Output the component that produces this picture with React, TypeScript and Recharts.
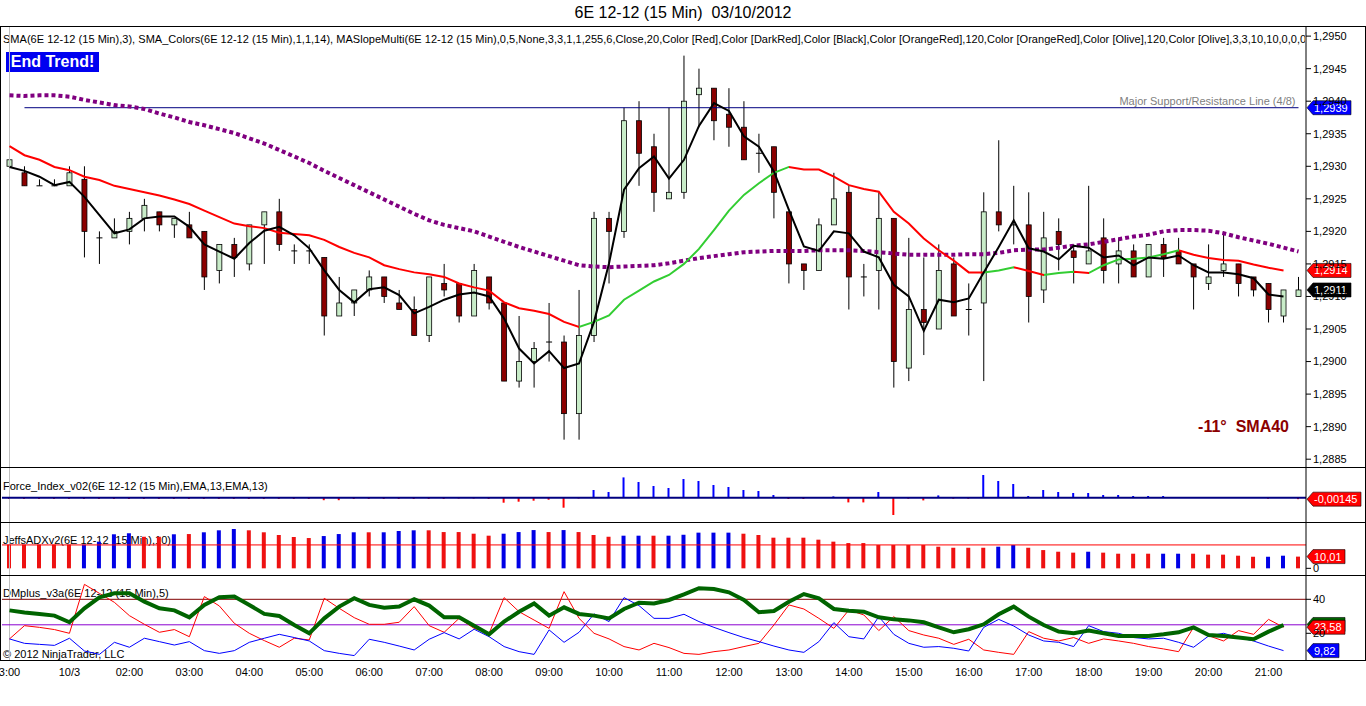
import React from "react";
import { Bar, Cell, ComposedChart, Line, ReferenceLine, XAxis, YAxis } from "recharts";

const FONT = '"Liberation Sans", Arial, sans-serif';

// x axis labels, one every 4 bars (15 min bars)
const timeLabels = [
    "3:00", "10/3", "02:00", "03:00", "04:00", "05:00", "06:00", "07:00", "08:00", "09:00", "10:00",
    "11:00", "12:00", "13:00", "14:00", "15:00", "16:00", "17:00", "18:00", "19:00", "20:00", "21:00",
];
const tickIdx = [0, 4, 8, 12, 16, 20, 24, 28, 32, 36, 40, 44, 48, 52, 56, 60, 64, 68, 72, 76, 80, 84];
const priceTicks = [1.2885, 1.289, 1.2895, 1.29, 1.2905, 1.291, 1.2915, 1.292, 1.2925, 1.293, 1.2935, 1.294, 1.2945, 1.295];

const opens = [
    1.2930, 1.2929, 1.2927, 1.2927, 1.2927, 1.2928, 1.2919, 1.2919, 1.2920, 1.2922,
    1.2923, 1.2921, 1.2921, 1.2920, 1.2914, 1.2918, 1.2915, 1.2921, 1.2923, 1.2917,
    1.2917, 1.2916, 1.2907, 1.2909, 1.2911, 1.2913, 1.2909, 1.2908, 1.2904, 1.2912,
    1.2912, 1.2907, 1.2913, 1.2909, 1.2897, 1.2900, 1.2903, 1.2903, 1.2892, 1.2904,
    1.2922, 1.2920, 1.2937, 1.2933, 1.2925, 1.2926, 1.2941, 1.2942, 1.2938, 1.2936,
    1.2932, 1.2933, 1.2923, 1.2915, 1.2914, 1.2921, 1.2926, 1.2913, 1.2914, 1.2922,
    1.2899, 1.2908, 1.2905, 1.2915, 1.2908, 1.2909, 1.2923, 1.2921, 1.2921, 1.2911,
    1.2920, 1.2917, 1.2915, 1.2919, 1.2915, 1.2917, 1.2913, 1.2918, 1.2917, 1.2915,
    1.2912, 1.2914, 1.2915, 1.2913, 1.2912, 1.2907, 1.2910,
];
const highs = [
    1.2933, 1.2930, 1.2928, 1.2928, 1.2930, 1.2930, 1.2920, 1.2922, 1.2923, 1.2925,
    1.2923, 1.2922, 1.2923, 1.2920, 1.2918, 1.2919, 1.2921, 1.2923, 1.2925, 1.2918,
    1.2918, 1.2916, 1.2913, 1.2911, 1.2914, 1.2913, 1.2911, 1.2910, 1.2913, 1.2915,
    1.2912, 1.2915, 1.2913, 1.2909, 1.2907, 1.2903, 1.2909, 1.2904, 1.2911, 1.2923,
    1.2923, 1.2939, 1.2940, 1.2935, 1.2939, 1.2947, 1.2945, 1.2942, 1.2942, 1.2940,
    1.2935, 1.2933, 1.2923, 1.2915, 1.2922, 1.2929, 1.2927, 1.2915, 1.2926, 1.2922,
    1.2919, 1.2916, 1.2918, 1.2916, 1.2912, 1.2926, 1.2934, 1.2927, 1.2926, 1.2923,
    1.2922, 1.2918, 1.2927, 1.2922, 1.2919, 1.2918, 1.2918, 1.2919, 1.2919, 1.2915,
    1.2918, 1.2920, 1.2915, 1.2913, 1.2912, 1.2911, 1.2913,
];
const lows = [
    1.2930, 1.2927, 1.2927, 1.2927, 1.2927, 1.2916, 1.2915, 1.2919, 1.2918, 1.2920,
    1.2920, 1.2919, 1.2919, 1.2911, 1.2912, 1.2913, 1.2914, 1.2915, 1.2917, 1.2915,
    1.2915, 1.2904, 1.2907, 1.2907, 1.2910, 1.2909, 1.2908, 1.2904, 1.2903, 1.2910,
    1.2906, 1.2907, 1.2908, 1.2897, 1.2896, 1.2896, 1.2900, 1.2888, 1.2888, 1.2903,
    1.2912, 1.2919, 1.2927, 1.2923, 1.2925, 1.2925, 1.2936, 1.2934, 1.2933, 1.2931,
    1.2929, 1.2922, 1.2912, 1.2911, 1.2914, 1.2921, 1.2908, 1.2910, 1.2908, 1.2896,
    1.2897, 1.2901, 1.2905, 1.2907, 1.2904, 1.2897, 1.2920, 1.2918, 1.2906, 1.2909,
    1.2914, 1.2912, 1.2915, 1.2912, 1.2912, 1.2913, 1.2913, 1.2913, 1.2915, 1.2908,
    1.2911, 1.2913, 1.2910, 1.2910, 1.2906, 1.2906, 1.2910,
];
const closes = [
    1.2931, 1.2927, 1.2927, 1.2927, 1.2929, 1.2920, 1.2919, 1.2920, 1.2922, 1.2924,
    1.2921, 1.2922, 1.2919, 1.2913, 1.2918, 1.2916, 1.2921, 1.2923, 1.2918, 1.2917,
    1.2917, 1.2907, 1.2909, 1.2911, 1.2913, 1.2910, 1.2908, 1.2904, 1.2913, 1.2911,
    1.2907, 1.2914, 1.2909, 1.2897, 1.2900, 1.2902, 1.2903, 1.2892, 1.2904, 1.2922,
    1.2920, 1.2937, 1.2932, 1.2926, 1.2926, 1.2940, 1.2942, 1.2937, 1.2936, 1.2931,
    1.2932, 1.2926, 1.2915, 1.2914, 1.2921, 1.2925, 1.2913, 1.2913, 1.2922, 1.2900,
    1.2908, 1.2906, 1.2914, 1.2907, 1.2908, 1.2923, 1.2921, 1.2921, 1.2910, 1.2919,
    1.2918, 1.2916, 1.2917, 1.2914, 1.2917, 1.2913, 1.2918, 1.2916, 1.2915, 1.2913,
    1.2913, 1.2915, 1.2912, 1.2911, 1.2908, 1.2911, 1.2911,
];

// SMA(3), black
const sma3 = [
    1.29299, 1.29293, 1.29284, 1.29271, 1.29276, 1.29253, 1.29225, 1.29197, 1.29203, 1.2922,
    1.29223, 1.29223, 1.29207, 1.2918, 1.29169, 1.29158, 1.29182, 1.29201, 1.29207, 1.29194,
    1.29174, 1.2914, 1.2911, 1.29091, 1.29111, 1.29114, 1.29102, 1.29074, 1.29084, 1.29095,
    1.29103, 1.29106, 1.291, 1.29066, 1.2902, 1.28997, 1.29016, 1.2899, 1.28997, 1.29061,
    1.29151, 1.29264, 1.29297, 1.29315, 1.29281, 1.2931, 1.29362, 1.29397, 1.29385, 1.29346,
    1.2933, 1.29292, 1.29233, 1.29177, 1.2917, 1.292, 1.29197, 1.29169, 1.2916, 1.29118,
    1.291, 1.29047, 1.29095, 1.29091, 1.29097, 1.29137, 1.29176, 1.29217, 1.29174, 1.29169,
    1.29157, 1.29178, 1.29175, 1.2916, 1.29163, 1.29148, 1.2916, 1.29158, 1.29163, 1.29148,
    1.29137, 1.29137, 1.29134, 1.29128, 1.29103, 1.291, null,
];

// SMA_Colors(14), red when falling, green when rising
const sma14 = [
    1.29331, 1.29317, 1.2931, 1.29299, 1.29294, 1.29284, 1.29279, 1.2927, 1.29265, 1.2926,
    1.29255, 1.29249, 1.29242, 1.29232, 1.29222, 1.29212, 1.29208, 1.29205, 1.29198, 1.29196,
    1.29194, 1.29187, 1.29176, 1.29167, 1.2916, 1.29148, 1.29142, 1.29137, 1.29134, 1.2913,
    1.2912, 1.29114, 1.29109, 1.29091, 1.29082, 1.29078, 1.29073, 1.29061, 1.29053, 1.29061,
    1.29071, 1.29095, 1.29109, 1.29123, 1.29133, 1.2915, 1.29173, 1.29202, 1.29232, 1.29256,
    1.29274, 1.2929, 1.29299, 1.29295, 1.29295, 1.29284, 1.29271, 1.29265, 1.29261, 1.2923,
    1.29212, 1.29189, 1.29171, 1.29155, 1.29137, 1.29137, 1.2914, 1.29145, 1.29139, 1.29133,
    1.29136, 1.29138, 1.29136, 1.29148, 1.29157, 1.29158, 1.2916, 1.29165, 1.29171, 1.29164,
    1.29159, 1.29156, 1.29155, 1.29149, 1.29144, 1.2914, null,
];

// SMA40, purple dotted
const sma40 = [
    1.29409, 1.29408, 1.29409, 1.29409, 1.29407, 1.29402, 1.29398, 1.29394, 1.29392, 1.29388,
    1.29381, 1.29375, 1.29368, 1.29363, 1.29357, 1.29351, 1.29343, 1.29335, 1.29325, 1.29315,
    1.29305, 1.29293, 1.29282, 1.29271, 1.2926, 1.29249, 1.29238, 1.29227, 1.29217, 1.2921,
    1.29205, 1.292, 1.29192, 1.29184, 1.29176, 1.29169, 1.29162, 1.29155, 1.29148, 1.29146,
    1.29145, 1.29146, 1.29147, 1.29148, 1.29151, 1.29155, 1.29159, 1.29162, 1.29165, 1.29168,
    1.29169, 1.2917, 1.2917, 1.2917, 1.29171, 1.29171, 1.29171, 1.2917, 1.29168, 1.29166,
    1.29164, 1.29164, 1.29164, 1.29164, 1.29165, 1.29165, 1.29167, 1.29171, 1.29172, 1.29172,
    1.29175, 1.29178, 1.2918, 1.29184, 1.29188, 1.29192, 1.29195, 1.292, 1.29202, 1.29202,
    1.29201, 1.29197, 1.29191, 1.29186, 1.29181, 1.29175, 1.29169,
];

const force = [
    -0.0012, -0.0012, -0.0012, -0.0012, -0.0012, -0.0012, -0.0012, -0.0012, -0.0012, -0.0012,
    -0.0012, -0.0012, -0.0012, -0.0012, -0.0012, -0.0012, -0.0012, -0.0012, -0.0012, -0.0012,
    -0.0012, -0.0025, -0.0025, -0.0012, -0.0012, -0.0012, -0.0012, -0.0012, -0.0012, -0.0012,
    -0.0008, -0.0008, -0.0012, -0.005, -0.004, -0.003, -0.002, -0.01, -0.0008, 0.0077,
    0.0057, 0.0203, 0.0157, 0.0117, 0.0097, 0.0187, 0.0167, 0.0127, 0.0107, 0.0077,
    0.0067, 0.0027, -0.0013, -0.0013, 0.0004, 0.0013, -0.0047, -0.0047, 0.0057, -0.0173,
    -0.001, -0.0027, 0.0023, -0.001, -0.001, 0.0227, 0.0167, 0.0137, 0.0017, 0.0077,
    0.0057, 0.0047, 0.0047, 0.0027, 0.0027, 0.0017, 0.0017, 0.0017, 0.0004, 0.0004,
    0.0004, 0.0004, 0.0004, 0.0004, -0.001, 0.0003, -0.00145,
];

const adx = [
    20.3, 20.3, 20.3, 20.3, 20.3, 20.3, 22.8, 29.1, 29.9, 27.0,
    27.0, 29.1, 29.3, 30.8, 32.5, 33.6, 32.5, 30.8, 28.5, 26.8,
    25.9, 27.6, 29.3, 30.8, 30.8, 30.8, 31.9, 32.5, 32.5, 31.0,
    31.0, 29.6, 27.9, 29.6, 31.0, 32.7, 31.0, 32.7, 31.0, 28.5,
    27.0, 27.9, 27.9, 27.9, 27.9, 28.7, 30.5, 30.5, 30.5, 29.6,
    28.5, 26.2, 26.2, 26.2, 24.5, 22.8, 21.6, 21.6, 19.9, 19.9,
    19.9, 19.9, 18.5, 17.6, 17.6, 17.6, 18.5, 19.9, 17.6, 15.6,
    14.2, 13.4, 14.2, 13.4, 12.5, 12.5, 12.5, 12.5, 12.5, 12.5,
    11.7, 11.7, 10.8, 9.9, 9.9, 10.8, 10.01,
];
const adxColors = "RRRRRBBBBRRBRBBBRRRRRBBBRBBBRR" + "RRRBBBRBRRRBBRBBBBBRRRRRRRRRRR" + "RRRRRRBBRRRRBRRRRBBRRRRRBBR";

const dmAdx = [
    33.5, 32.2, 31.4, 30.4, 26.5, 34.7, 41.2, 43.5, 43.5, 38.6,
    34.7, 33.5, 29.4, 36.7, 41.2, 41.6, 36.7, 31.4, 30.2, 24.9,
    20.0, 28.8, 35.7, 40.6, 36.7, 35.1, 35.7, 40.0, 36.3, 29.4,
    29.4, 24.5, 19.4, 26.9, 32.7, 37.6, 30.4, 35.3, 31.4, 30.4,
    28.8, 34.3, 38.0, 37.6, 39.6, 42.9, 46.5, 46.1, 44.1, 39.6,
    32.4, 33.1, 38.6, 43.1, 40.6, 34.3, 33.3, 32.7, 29.4, 28.2,
    27.6, 26.5, 23.5, 20.6, 22.4, 25.3, 31.2, 35.7, 29.8, 24.9,
    21.0, 20.0, 21.6, 20.0, 18.4, 18.4, 18.4, 19.4, 20.6, 23.5,
    19.0, 18.4, 17.5, 16.5, 21.0, 24.9, null,
];
const dmRed = [
    16.7, 24.5, 23.5, 22.2, 20.0, 48.8, 43.5, 38.2, 30.4, 25.3,
    20.6, 22.2, 18.0, 41.6, 36.1, 25.9, 20.0, 15.7, 11.8, 17.1,
    16.1, 40.6, 34.7, 29.2, 25.3, 25.3, 26.5, 35.7, 24.5, 20.6,
    28.8, 22.9, 20.0, 41.0, 32.7, 27.8, 22.9, 44.5, 28.8, 20.0,
    16.7, 12.2, 10.2, 14.1, 11.6, 8.2, 7.6, 9.2, 10.2, 12.2,
    14.1, 24.9, 36.7, 34.3, 28.8, 22.9, 33.7, 30.8, 21.6, 29.8,
    21.6, 19.0, 17.1, 13.5, 16.5, 10.2, 8.8, 7.6, 21.0, 17.1,
    15.5, 17.5, 14.1, 16.7, 15.5, 14.1, 12.2, 10.8, 9.2, 23.5,
    18.6, 15.5, 21.6, 19.4, 28.2, 23.58, null,
];
const dmBlue = [
    16.7, 14.1, 13.5, 12.9, 17.1, 9.6, 7.6, 14.7, 11.8, 17.1,
    15.1, 13.1, 15.1, 9.8, 8.2, 9.8, 14.7, 17.1, 19.4, 17.5,
    15.5, 9.8, 8.2, 6.9, 16.5, 14.7, 12.5, 10.2, 16.5, 20.4,
    16.7, 22.4, 18.0, 12.2, 9.2, 7.6, 22.0, 14.7, 20.6, 31.4,
    26.9, 41.0, 36.3, 28.8, 28.8, 31.2, 26.9, 23.5, 20.4, 17.5,
    15.1, 12.5, 10.2, 8.8, 15.1, 26.3, 18.0, 16.7, 29.8, 19.4,
    14.1, 11.8, 12.2, 11.2, 9.6, 23.5, 28.2, 24.3, 19.0, 15.5,
    14.7, 12.2, 24.5, 21.0, 20.0, 17.5, 16.7, 17.1, 14.7, 11.8,
    18.4, 20.0, 17.5, 15.5, 12.5, 9.82, null,
];

const rows = opens.map((o, i) => ({
    i,
    open: o,
    high: highs[i],
    low: lows[i],
    close: closes[i],
    sma3: sma3[i],
    sma14: sma14[i],
    sma40: sma40[i],
    force: force[i],
    adx: adx[i],
    dmAdx: dmAdx[i],
    dmRed: dmRed[i],
    dmBlue: dmBlue[i],
}));

// gradient stops so the SMA14 line is green on rising segments, red on falling ones
const smaLast = sma14.filter((v) => v != null).length - 1;
const smaStops: { off: number; color: string }[] = [];
for (let k = 0; k < smaLast; k++) {
    const color = (sma14[k + 1] as number) > (sma14[k] as number) ? "#32cd32" : "#ff0000";
    smaStops.push({ off: k / smaLast, color }, { off: (k + 1) / smaLast, color });
}

const Candle = (props: any) => {
    const { x, y, width, height, payload } = props;
    const top = Math.min(y, y + height);
    const h = Math.abs(height);
    const { open, close, high, low } = payload;
    const ppu = high === low ? 0 : h / (high - low);
    const yOf = (v: number) => top + (high - v) * ppu;
    const cx = x + width / 2;
    const bodyTop = yOf(Math.max(open, close));
    const bodyBot = yOf(Math.min(open, close));
    return (
        <g>
            <line x1={cx} x2={cx} y1={top} y2={top + h} stroke="#000" strokeWidth={1} />
            {open === close ? (
                <line x1={x - 0.5} x2={x + width + 0.5} y1={bodyTop} y2={bodyTop} stroke="#000" strokeWidth={1} />
            ) : (
                <rect
                    x={x}
                    y={bodyTop}
                    width={width}
                    height={Math.max(bodyBot - bodyTop, 1)}
                    fill={close > open ? "#c8ecc8" : "#8b0000"}
                    stroke="#000"
                    strokeWidth={0.8}
                />
            )}
        </g>
    );
};

// arrow-shaped value tag sitting on the right axis
const tag = (text: string, bg: string, w: number) => (props: any) => {
    const vb = props.viewBox ?? {};
    const x = (vb.x ?? 0) + (vb.width ?? 0);
    const y = vb.y ?? 0;
    return (
        <g>
            <polygon
                points={`${x + 1},${y} ${x + 7},${y - 7} ${x + w},${y - 7} ${x + w},${y + 7} ${x + 7},${y + 7}`}
                fill={bg}
                stroke="#000"
                strokeWidth={0.6}
            />
            <text x={x + 8} y={y + 4} fill="#fff" fontSize={11} fontFamily={FONT}>
                {text}
            </text>
        </g>
    );
};

const fmtPrice = (v: number) => v.toFixed(4).replace(".", ",");
const axisTick = { fill: "#000", fontSize: 11, fontFamily: FONT };
const margin = { top: 0, right: 0, bottom: 0, left: 2 };

const hline = (top: number): React.CSSProperties => ({
    position: "absolute",
    left: 0,
    top,
    width: 1366,
    height: 1,
    background: "#000",
});

const label = (left: number, top: number, extra?: React.CSSProperties): React.CSSProperties => ({
    position: "absolute",
    left,
    top,
    fontSize: 11,
    lineHeight: "12px",
    whiteSpace: "nowrap",
    color: "#000",
    ...extra,
});

export default function App() {
    return (
        <div
            style={{
                position: "absolute",
                left: 0,
                top: 0,
                width: 1366,
                height: 706,
                background: "#fff",
                fontFamily: FONT,
                overflow: "hidden",
            }}
        >
            <div style={{ position: "absolute", left: 0, top: 4, width: 1366, textAlign: "center", fontSize: 16, lineHeight: "18px" }}>
                6E 12-12 (15 Min)&nbsp;&nbsp;03/10/2012
            </div>

            <div style={label(3, 33, { width: 1302, overflow: "hidden", letterSpacing: "0.03px" })}>
                SMA(6E 12-12 (15 Min),3), SMA_Colors(6E 12-12 (15 Min),1,1,14), MASlopeMulti(6E 12-12 (15
                Min),0,5,None,3,3,1,1,255,6,Close,20,Color [Red],Color [DarkRed],Color [Black],Color [OrangeRed],120,Color
                [OrangeRed],Color [Olive],120,Color [Olive],3,3,10,10,0,0,0
            </div>
            <div
                style={{
                    position: "absolute",
                    left: 6,
                    top: 52,
                    width: 93,
                    height: 20,
                    background: "#0000f0",
                    color: "#fff",
                    fontWeight: "bold",
                    fontSize: 16,
                    lineHeight: "20px",
                    textAlign: "center",
                }}
            >
                End Trend!
            </div>
            <div
                style={{
                    position: "absolute",
                    left: 1100,
                    top: 417,
                    width: 189,
                    textAlign: "right",
                    color: "#8b0000",
                    fontWeight: "bold",
                    fontSize: 16,
                    lineHeight: "20px",
                    whiteSpace: "pre",
                }}
            >
                {"-11°  SMA40"}
            </div>
            <div style={label(3, 480)}>Force_Index_v02(6E 12-12 (15 Min),EMA,13,EMA,13)</div>
            <div style={label(3, 534)}>JeffsADXv2(6E 12-12 (15 Min),10)</div>
            <div style={label(3, 587)}>DMplus_v3a(6E 12-12 (15 Min),5)</div>
            <div style={label(3, 648)}>© 2012 NinjaTrader, LLC</div>

            {/* price panel */}
            <div style={{ position: "absolute", left: 0, top: 27 }}>
                <ComposedChart width={1366} height={440} data={rows} margin={margin}>
                    <defs>
                        <linearGradient id="smaGrad" x1="0" y1="0" x2="1" y2="0">
                            {smaStops.map((s, k) => (
                                <stop key={k} offset={s.off} stopColor={s.color} />
                            ))}
                        </linearGradient>
                    </defs>
                    <XAxis dataKey="i" scale="band" hide />
                    <YAxis
                        orientation="right"
                        width={60}
                        domain={[1.28838, 1.29514]}
                        ticks={priceTicks}
                        interval={0}
                        tickFormatter={fmtPrice}
                        tick={axisTick}
                        tickSize={5}
                        axisLine={{ stroke: "#000" }}
                        tickLine={{ stroke: "#000" }}
                        allowDataOverflow
                    />
                    <ReferenceLine x={0} stroke="#c0c0c0" />
                    <ReferenceLine
                        segment={[
                            { x: 1, y: 1.2939 },
                            { x: 86, y: 1.2939 },
                        ]}
                        stroke="#000080"
                        label={{
                            value: "Major Support/Resistance Line (4/8)",
                            position: "insideBottomRight",
                            fill: "#808080",
                            fontSize: 11,
                            offset: 3,
                        }}
                    />
                    <Bar dataKey={(d: any) => [d.low, d.high]} barSize={5} shape={(p: any) => <Candle {...p} />} isAnimationActive={false} />
                    <Line dataKey="sma40" stroke="#800080" strokeWidth={4} strokeDasharray="4 3" dot={false} activeDot={false} isAnimationActive={false} />
                    <Line dataKey="sma14" stroke="url(#smaGrad)" strokeWidth={2} dot={false} activeDot={false} isAnimationActive={false} />
                    <Line dataKey="sma3" stroke="#000" strokeWidth={2} dot={false} activeDot={false} isAnimationActive={false} />
                    <ReferenceLine y={1.2939} stroke="none" label={tag("1,2939", "#0000ff", 45)} />
                    <ReferenceLine y={1.2914} stroke="none" label={tag("1,2914", "#ff0000", 45)} />
                    <ReferenceLine y={1.2911} stroke="none" label={tag("1,2911", "#000", 45)} />
                </ComposedChart>
            </div>

            {/* force index */}
            <div style={{ position: "absolute", left: 0, top: 468 }}>
                <ComposedChart width={1366} height={54} data={rows} margin={margin}>
                    <XAxis dataKey="i" scale="band" hide />
                    <YAxis orientation="right" width={60} domain={[-0.0243, 0.0297]} ticks={[]} tick={false} axisLine={{ stroke: "#000" }} allowDataOverflow />
                    <ReferenceLine x={0} stroke="#c0c0c0" />
                    <Bar dataKey="force" barSize={2} isAnimationActive={false}>
                        {force.map((v, k) => (
                            <Cell key={k} fill={v >= 0 ? "#0000ff" : "#ff0000"} />
                        ))}
                    </Bar>
                    <ReferenceLine y={0} stroke="#000080" strokeWidth={2} />
                    <ReferenceLine y={-0.00145} stroke="none" label={tag("-0,00145", "#ff0000", 55)} />
                </ComposedChart>
            </div>

            {/* JeffsADX */}
            <div style={{ position: "absolute", left: 0, top: 522 }}>
                <ComposedChart width={1366} height={53} data={rows} margin={margin}>
                    <XAxis dataKey="i" scale="band" hide />
                    <YAxis
                        orientation="right"
                        width={60}
                        domain={[-5.7, 39.6]}
                        ticks={[0]}
                        interval={0}
                        tick={axisTick}
                        tickSize={5}
                        axisLine={{ stroke: "#000" }}
                        tickLine={{ stroke: "#000" }}
                        allowDataOverflow
                    />
                    <ReferenceLine x={0} stroke="#c0c0c0" />
                    <ReferenceLine y={20} stroke="#ff0000" />
                    <Bar dataKey="adx" barSize={4} isAnimationActive={false}>
                        {adx.map((_, k) => (
                            <Cell key={k} fill={adxColors[k] === "B" ? "#0000e6" : "#ee1111"} />
                        ))}
                    </Bar>
                    <ReferenceLine y={10.01} stroke="none" label={tag("10,01", "#ff0000", 39)} />
                </ComposedChart>
            </div>

            {/* DMplus */}
            <div style={{ position: "absolute", left: 0, top: 575 }}>
                <ComposedChart width={1366} height={110} data={rows} margin={margin}>
                    <XAxis
                        dataKey="i"
                        scale="band"
                        height={25}
                        ticks={tickIdx}
                        interval={0}
                        tickFormatter={(v: number) => timeLabels[v / 4]}
                        tick={axisTick}
                        tickLine={false}
                        axisLine={false}
                    />
                    <YAxis
                        orientation="right"
                        width={60}
                        domain={[4.3, 54.3]}
                        ticks={[20, 40]}
                        interval={0}
                        tick={axisTick}
                        tickSize={5}
                        axisLine={{ stroke: "#000" }}
                        tickLine={{ stroke: "#000" }}
                        allowDataOverflow
                    />
                    <ReferenceLine x={0} stroke="#c0c0c0" />
                    <ReferenceLine y={40} stroke="#800000" />
                    <ReferenceLine y={25} stroke="#8a00d0" />
                    <Line dataKey="dmRed" stroke="#ff0000" strokeWidth={1} dot={false} activeDot={false} isAnimationActive={false} />
                    <Line dataKey="dmBlue" stroke="#0000ff" strokeWidth={1} dot={false} activeDot={false} isAnimationActive={false} />
                    <Line dataKey="dmAdx" stroke="#006400" strokeWidth={4} dot={false} activeDot={false} isAnimationActive={false} />
                    <ReferenceLine y={25.2} stroke="none" label={tag("", "#006400", 39)} />
                    <ReferenceLine y={23.58} stroke="none" label={tag("23,58", "#ff0000", 39)} />
                    <ReferenceLine y={9.82} stroke="none" label={tag("9,82", "#0000ff", 33)} />
                </ComposedChart>
            </div>

            {/* panel frames */}
            <div style={hline(26)} />
            <div style={hline(467)} />
            <div style={hline(522)} />
            <div style={hline(575)} />
            <div style={hline(660)} />
            <div style={{ position: "absolute", left: 0, top: 26, width: 1, height: 635, background: "#000" }} />
            <div style={{ position: "absolute", left: 1365, top: 26, width: 1, height: 635, background: "#000" }} />
        </div>
    );
}
